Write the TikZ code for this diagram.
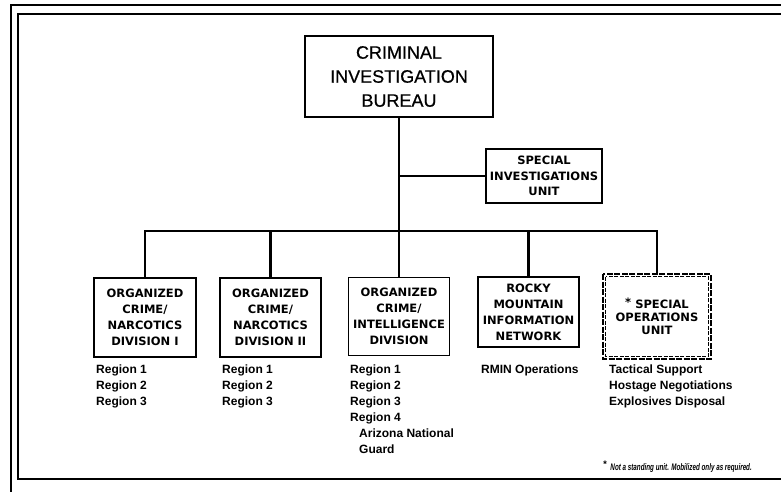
\documentclass[tikz,border=0pt]{standalone}
\usepackage{fontspec}
\usepackage{graphicx}
\setmainfont{Liberation Sans}
\newfontfamily\capfont{DejaVu Sans}
\newfontfamily\headfont[FakeBold=0.6]{Liberation Sans}
\begin{document}
\begin{tikzpicture}[x=1pt,y=-1pt,
  unitbox/.style={draw,line width=1.6pt,align=center,inner sep=0pt,
    font=\capfont\bfseries\fontsize{11.5}{16}\selectfont},
  standby/.style={unitbox,draw=none},
  sublist/.style={anchor=north west,inner sep=0pt,align=left,
    font=\bfseries\fontsize{12}{16}\selectfont},
  link/.style={line width=2.2pt,line join=miter}
]
\useasboundingbox (0,0) rectangle (781,495);

% page frame (open on the right)
\draw[line width=2.6pt] (781,5) -- (11,5) -- (11,492);
\draw[line width=1.5pt] (781,14) -- (18,14) -- (18,479) -- (781,479);

% bureau and staff unit
\node[draw,line width=1.6pt,minimum width=188pt,minimum height=81pt,align=center,
  inner sep=0pt,font=\headfont\fontsize{18}{24}\selectfont] (cib) at (399,76.5)
  {CRIMINAL\\INVESTIGATION\\BUREAU};
\node[unitbox,minimum width=116pt,minimum height=54pt,
  font=\capfont\bfseries\fontsize{11.5}{15.5}\selectfont] (siu) at (544,176)
  {SPECIAL\\INVESTIGATIONS\\UNIT};

% divisions
\node[unitbox,minimum width=102pt,minimum height=79pt] (b1) at (145,317.5)
  {ORGANIZED\\CRIME/\\NARCOTICS\\DIVISION I};
\node[unitbox,minimum width=101pt,minimum height=79pt] (b2) at (270.5,317.5)
  {ORGANIZED\\CRIME/\\NARCOTICS\\DIVISION II};
\node[unitbox,minimum width=101pt,minimum height=78pt] (b3) at (399,316.5)
  {ORGANIZED\\CRIME/\\INTELLIGENCE\\DIVISION};
\node[unitbox,minimum width=101pt,minimum height=70pt] (b4) at (528.5,312)
  {ROCKY\\MOUNTAIN\\INFORMATION\\NETWORK};
\node[standby,minimum width=106pt,minimum height=83pt,
  font=\capfont\bfseries\fontsize{11.5}{13}\selectfont] (b5) at (657,316.5)
  {\raisebox{1.5pt}{*} SPECIAL\\OPERATIONS\\UNIT};
\draw[line width=1.7pt,dash pattern=on 6pt off 1.5pt]
  (b5.north west) rectangle (b5.south east);
\draw[line width=0.7pt,dash pattern=on 4pt off 1.5pt]
  ([xshift=2.5pt,yshift=-2.5pt]b5.north west) rectangle ([xshift=-2.5pt,yshift=2.5pt]b5.south east);

% connectors
\coordinate (bus) at (0,231);
\draw[link] (b1.north) -- (b1.north |- bus) -- (b5.north |- bus) -- (b5.north);
\draw[link] (cib.south) -- (cib.south |- bus);
\draw[link] (cib.south |- siu.west) -- (siu.west);
\foreach \b in {b2,b3,b4} \draw[link] (\b.north) -- (\b.north |- bus);

% sub-units
\node[sublist] (r1) at (96,365) {Region 1\\Region 2\\Region 3};
\node[sublist] (r2) at (222,365) {Region 1\\Region 2\\Region 3};
\node[sublist] (r3) at (350,365) {Region 1\\Region 2\\Region 3\\Region 4\\
  \hspace*{9pt}Arizona National\\\hspace*{9pt}Guard};
\node[sublist] (r4) at (481,365) {RMIN Operations};
\node[sublist] (r5) at (609,365) {Tactical Support\\Hostage Negotiations\\Explosives Disposal};

% footnote
\node[anchor=south east,inner sep=0pt,font=\bfseries\itshape\fontsize{9.5}{11}\selectfont]
  (note) at (752,473)
  {\raisebox{3pt}{*}\hspace{4pt}\scalebox{0.66}[1]{Not a standing unit. Mobilized only as required.}};
\end{tikzpicture}
\end{document}
